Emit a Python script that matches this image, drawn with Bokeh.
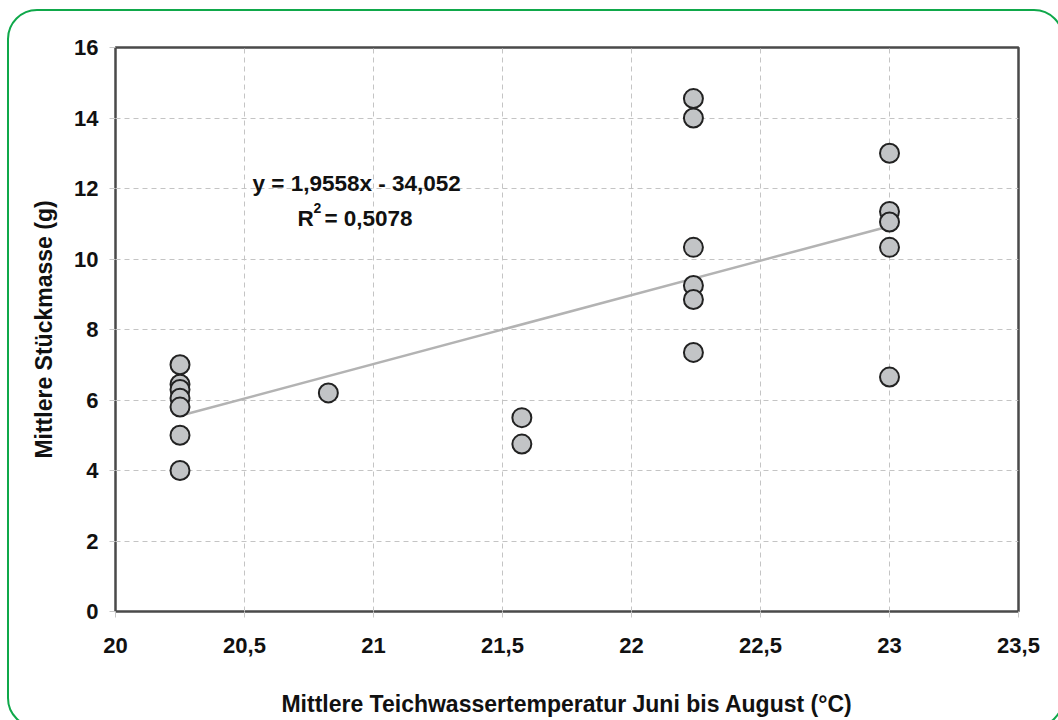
from bokeh.plotting import figure
from bokeh.models import (ColumnDataSource, FixedTicker, CustomJSTickFormatter,
                          Label, InlineStyleSheet)
from bokeh.embed import file_html
from bokeh.resources import INLINE

# Mean pond water temperature June-August (°C) and mean individual mass (g)
temperature = [20.25, 20.25, 20.25, 20.25, 20.25, 20.25, 20.25,
               20.825,
               21.575, 21.575,
               22.24, 22.24, 22.24, 22.24, 22.24, 22.24,
               23.0, 23.0, 23.0, 23.0, 23.0]
mass = [7.0, 6.45, 6.3, 6.05, 5.8, 5.0, 4.0,
        6.2,
        5.5, 4.75,
        14.55, 14.0, 10.33, 9.25, 8.85, 7.35,
        13.0, 11.35, 11.05, 10.33, 6.65]

# Linear trend line
slope = 1.9558
intercept = -34.052
r_squared = 0.5078
trend_x = [min(temperature), max(temperature)]
trend_y = [slope * t + intercept for t in trend_x]

x_ticks = [20, 20.5, 21, 21.5, 22, 22.5, 23, 23.5]
y_ticks = [0, 2, 4, 6, 8, 10, 12, 14, 16]

FONT = "Liberation Sans"
TEXT = "#111111"

# Rounded green frame drawn around the page
border_css = InlineStyleSheet(css="""
:host { position: relative; }
:host::after {
  content: "";
  position: absolute;
  left: 7px; top: 9px; width: 1057px; height: 719px;
  border: 2px solid #0fa84a;
  border-radius: 30px;
  box-sizing: border-box;
  pointer-events: none;
}
""")

p = figure(width=1058, height=720, x_range=(20, 23.5), y_range=(0, 16),
           output_backend="svg", toolbar_location=None,
           min_border_left=115, min_border_right=40,
           min_border_top=47, min_border_bottom=109)
p.stylesheets = [border_css]
p.background_fill_color = "white"
p.border_fill_color = "white"
p.outline_line_color = "#4a4a4a"
p.outline_line_width = 2.5

for g in (p.xgrid, p.ygrid):
    g.grid_line_color = "#c4c4c4"
    g.grid_line_dash = "5 4"
    g.grid_line_width = 1
p.xgrid.ticker = FixedTicker(ticks=x_ticks)
p.ygrid.ticker = FixedTicker(ticks=y_ticks)

comma = CustomJSTickFormatter(code="return tick.toString().replace('.', ',');")
for ax, ticks in ((p.xaxis, x_ticks), (p.yaxis, y_ticks)):
    ax.ticker = FixedTicker(ticks=ticks)
    ax.formatter = comma
    ax.axis_line_color = None
    ax.major_tick_line_color = "#c8c8c8"
    ax.major_tick_out = 6
    ax.major_tick_in = 0
    ax.minor_tick_line_color = None
    ax.major_label_text_font = FONT
    ax.major_label_text_font_style = "bold"
    ax.major_label_text_font_size = "22px"
    ax.major_label_text_color = TEXT
    ax.axis_label_text_font = FONT
    ax.axis_label_text_font_style = "bold"
    ax.axis_label_text_font_size = "23px"
    ax.axis_label_text_color = TEXT

p.xaxis.axis_label = "Mittlere Teichwassertemperatur Juni bis August (°C)"
p.yaxis.axis_label = "Mittlere Stückmasse (g)"
p.xaxis.major_label_standoff = 20
p.yaxis.major_label_standoff = 11
p.xaxis.axis_label_standoff = 35
p.yaxis.axis_label_standoff = 14

p.line(trend_x, trend_y, line_color="#b3b3b3", line_width=2.5)

src = ColumnDataSource(data=dict(x=temperature, y=mass))
p.scatter("x", "y", source=src, size=19, fill_color="#c2c4c6",
          line_color="#222222", line_width=2)

label_style = dict(text_font=FONT, text_font_style="bold",
                   text_color=TEXT, text_baseline="alphabetic",
                   text_align="left")
p.add_layout(Label(x=20.531, y=12.14, text="y = 1,9558x - 34,052",
                   text_font_size="22.5px", **label_style))
p.add_layout(Label(x=20.705, y=11.15, text="R",
                   text_font_size="22.5px", **label_style))
p.add_layout(Label(x=20.705, y=11.15, x_offset=16, y_offset=10, text="2",
                   text_font_size="14px", **label_style))
p.add_layout(Label(x=20.705, y=11.15, x_offset=27,
                   text=f"= {r_squared}".replace(".", ","),
                   text_font_size="22.5px", **label_style))

open("out.html", "w").write(file_html(p, INLINE))
